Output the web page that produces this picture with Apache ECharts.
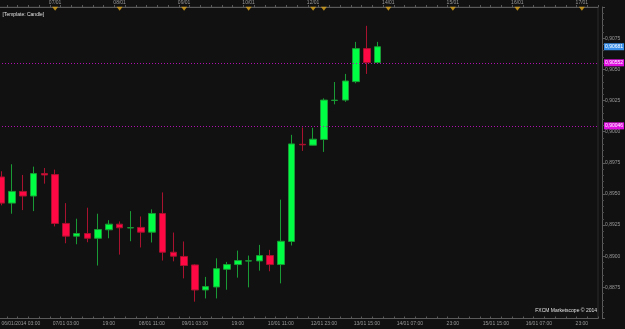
<!DOCTYPE html>
<html><head><meta charset="utf-8">
<script src="https://cdn.jsdelivr.net/npm/echarts@6/dist/echarts.min.js"></script>
<style>html,body{margin:0;padding:0;background:#111111;overflow:hidden;}#c{position:absolute;left:-3.625px;top:0;width:628.625px;height:329px;}</style>
</head><body><div id="c"></div>
<script>
const categories = ["06/01 03:00","06/01 07:00","06/01 11:00","06/01 15:00","06/01 19:00","06/01 23:00",
"07/01 03:00","07/01 07:00","07/01 11:00","07/01 15:00","07/01 19:00","07/01 23:00",
"08/01 03:00","08/01 07:00","08/01 11:00","08/01 15:00","08/01 19:00","08/01 23:00",
"09/01 03:00","09/01 07:00","09/01 11:00","09/01 15:00","09/01 19:00","09/01 23:00",
"10/01 03:00","10/01 07:00","10/01 11:00","10/01 15:00","10/01 19:00",
"12/01 19:00","12/01 23:00",
"13/01 03:00","13/01 07:00","13/01 11:00","13/01 15:00","13/01 19:00","13/01 23:00",
"14/01 03:00","14/01 07:00","14/01 11:00","14/01 15:00","14/01 19:00","14/01 23:00",
"15/01 03:00","15/01 07:00","15/01 11:00","15/01 15:00","15/01 19:00","15/01 23:00",
"16/01 03:00","16/01 07:00","16/01 11:00","16/01 15:00","16/01 19:00","16/01 23:00",
"17/01 03:00"];
const opens  = [0.89636,0.89426,0.89520,0.89483,0.89663,0.89655,0.89263,0.89161,0.89182,0.89144,0.89212,0.89257,0.89227,0.89231,0.89193,0.89343,0.89032,0.88998,0.88930,0.88729,0.88753,0.88895,0.88933,0.88961,0.88962,0.89005,0.88933,0.89118,0.89898,0.89891,0.89937,0.90250,0.90253,0.90401,0.90666,0.90554];
const closes = [0.89426,0.89520,0.89483,0.89663,0.89652,0.89263,0.89161,0.89182,0.89144,0.89214,0.89257,0.89228,0.89229,0.89193,0.89343,0.89032,0.89000,0.88925,0.88729,0.88756,0.88900,0.88933,0.88965,0.88963,0.89005,0.88933,0.89120,0.89901,0.89894,0.89939,0.90253,0.90252,0.90406,0.90666,0.90554,0.90681];
const lows   = [0.89408,0.89341,0.89370,0.89362,0.89582,0.89239,0.89104,0.89096,0.89112,0.88925,0.89144,0.89013,0.89120,0.89070,0.89110,0.88965,0.88959,0.88822,0.88635,0.88661,0.88661,0.88731,0.88828,0.88750,0.88884,0.88879,0.88782,0.89086,0.89845,0.89889,0.89837,0.90219,0.90239,0.90388,0.90463,0.90552];
const highs  = [0.89682,0.89738,0.89652,0.89719,0.89708,0.89695,0.89426,0.89301,0.89389,0.89341,0.89289,0.89279,0.89362,0.89319,0.89376,0.89512,0.89190,0.89118,0.88935,0.88834,0.88983,0.88954,0.89045,0.89005,0.89091,0.89051,0.89454,0.89974,0.90033,0.90030,0.90267,0.90398,0.90463,0.90720,0.90849,0.90720];
const bottomLabelIdx  = [0,6,10,14,18,22,26,30,34,38,42,46,50,54];
const bottomLabelText = ["06/01/2014 03:00","07/01 03:00","19:00","08/01 11:00","09/01 03:00","19:00","10/01 11:00","12/01 23:00","13/01 15:00","14/01 07:00","23:00","15/01 15:00","16/01 07:00","23:00"];
const dayMarkerIdx  = [5,11,17,23,29,30,36,42,48,54];
const dayMarkerText = ["07/01","08/01","09/01","10/01","12/01","","14/01","15/01","16/01","17/01"];
const levelLines = [0.90552, 0.90046];
const yMin = 0.885, yMax = 0.91, yStep = 0.0025;

const bottomMap = {}; bottomLabelIdx.forEach((i,k)=>bottomMap[i]=bottomLabelText[k]);
const topMap = {}; dayMarkerIdx.forEach((i,k)=>topMap[i]=dayMarkerText[k]);
const ohlc = opens.map((o,i)=>[o, closes[i], lows[i], highs[i]]);
const fmt = v => Number(v).toFixed(5).replace('.', ',');
const FONT = 'Liberation Sans';

const chart = echarts.init(document.getElementById('c'), null, {renderer:'canvas'});
chart.setOption({
  backgroundColor:'#111111',
  animation:false,
  title:[
    {text:'[Template: Candle]', left:6.5, top:12.5, padding:0, textStyle:{color:'#e0e0e0', fontSize:5, fontWeight:'normal', fontFamily:FONT}},
    {text:'FXCM Marketscope © 2014', right:28, top:308.5, padding:0, textStyle:{color:'#e0e0e0', fontSize:5, fontWeight:'normal', fontFamily:FONT}}
  ],
  grid:{left:0, right:27, top:6.7, bottom:10.5, show:true, borderColor:'#2c2c2c', borderWidth:1, backgroundColor:'transparent'},
  xAxis:[
    {type:'category', data:categories, position:'bottom', boundaryGap:true,
     axisLine:{lineStyle:{color:'#5a5a5a'}},
     axisTick:{show:true, inside:true, length:2, interval:0, lineStyle:{color:'#5a5a5a'}},
     axisLabel:{interval:(i)=>bottomMap[i]!==undefined, formatter:(v,i)=>bottomMap[i]||'', color:'#9a9a9a', fontSize:5, fontFamily:FONT, margin:3, alignMinLabel:'left', hideOverlap:false},
     splitLine:{show:false}},
    {type:'category', data:categories, position:'top', boundaryGap:true,
     axisLine:{lineStyle:{color:'#5a5a5a'}},
     axisTick:{show:true, length:2, interval:0, lineStyle:{color:'#5a5a5a'}},
     axisLabel:{interval:(i)=>topMap[i]!==undefined && topMap[i]!=='', formatter:(v,i)=>topMap[i]||'', color:'#9a9a9a', fontSize:5, fontFamily:FONT, margin:2},
     splitLine:{show:false}}
  ],
  yAxis:{type:'value', position:'right', offset:4, min:yMin, max:yMax, interval:yStep,
    axisLine:{show:true, lineStyle:{color:'#5a5a5a'}},
    axisTick:{show:true, length:3, lineStyle:{color:'#5a5a5a'}},
    minorTick:{show:true, splitNumber:5, length:2, lineStyle:{color:'#4a4a4a'}},
    axisLabel:{color:'#9a9a9a', fontSize:5, fontFamily:FONT, margin:3, showMinLabel:false, showMaxLabel:false,
      formatter:v=>v.toFixed(4).replace('.', ',')},
    splitLine:{show:false}},
  series:[
    {type:'candlestick', data:ohlc, barWidth:7,
     itemStyle:{color:'#00ff44', color0:'#ff0844', borderColor:'#1a9a34', borderColor0:'#a8122e', borderWidth:1},
     markLine:{symbol:['none','none'], silent:true, animation:false, precision:5,
       data:[
         {yAxis:closes[closes.length-1], lineStyle:{color:'rgba(0,0,0,0)', width:0},
          label:{show:true, position:'end', distance:6, formatter:p=>fmt(p.value), color:'#ffffff', backgroundColor:'#3a90e8', fontSize:5, fontFamily:FONT, padding:[1,1,1,1]}},
         ...levelLines.map(v=>({yAxis:v, lineStyle:{type:[1,2], color:'#b010b0', width:1},
          label:{show:true, position:'end', distance:6, formatter:p=>fmt(p.value), color:'#ffffff', backgroundColor:'#e010e0', fontSize:5, fontFamily:FONT, padding:[1,1,1,1]}}))
       ]}},
    {type:'scatter', xAxisIndex:1, symbol:'triangle', symbolRotate:180, symbolSize:[6,4],
     data:dayMarkerIdx.map(i=>[i, 0.90986]), itemStyle:{color:'#d9a21a'}, silent:true, z:5}
  ]
});
</script></body></html>
